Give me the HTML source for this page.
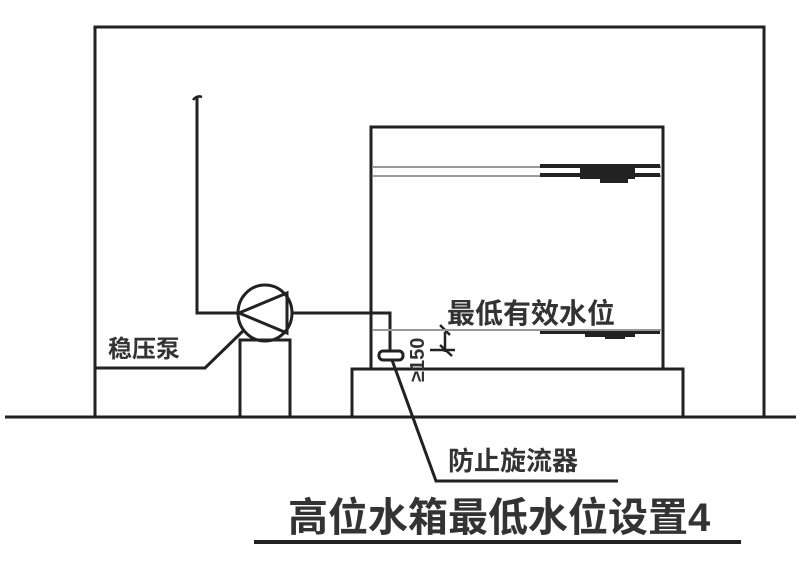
<!DOCTYPE html>
<html><head><meta charset="utf-8"><style>
body{margin:0;background:#fff;width:800px;height:575px;overflow:hidden}
svg{display:block}
text{font-family:"Liberation Sans","Noto Sans CJK SC",sans-serif;font-weight:bold;fill:#333}
</style></head><body>
<svg width="800" height="575" viewBox="0 0 800 575">
<g fill="none" stroke="#222" stroke-width="3">
<line x1="5" y1="417" x2="796" y2="417"/>
<polyline points="95,417 95,27 764,27 764,417"/>
<rect x="371" y="127" width="292" height="242"/>
<rect x="352" y="369" width="331" height="48"/>
<rect x="240" y="340" width="50" height="77"/>
<ellipse cx="265" cy="313" rx="27" ry="28"/>
<polyline points="239,313 287,293 287,333 239,313"/>
<polyline points="197,98 197,313 238,313"/>
<polyline points="292,313 390,313 390,352"/>
<rect x="379" y="351" width="24" height="9" rx="4"/>
<polyline points="95,368 205,368 243,331"/>
<polyline points="392,360 436,481 618,481"/>
<line x1="254" y1="542" x2="741" y2="542" stroke-width="4"/>
<path d="M193,100 q4,-5 9,-3" stroke-width="2.5"/>
<line x1="445" y1="332" x2="445" y2="352" stroke-width="2.5"/>
<line x1="430" y1="350" x2="455" y2="350" stroke-width="2.5"/>
<line x1="440" y1="325" x2="450" y2="335" stroke-width="2.5"/>
<line x1="440" y1="345" x2="452" y2="356" stroke-width="2.5"/>
</g>
<g stroke="#999" stroke-width="2">
<line x1="373" y1="167" x2="661" y2="167"/>
<line x1="373" y1="176" x2="661" y2="176"/>
<line x1="373" y1="330" x2="661" y2="330"/>
</g>
<g fill="#222">
<rect x="540" y="164" width="120" height="4"/>
<rect x="540" y="173" width="120" height="4"/>
<rect x="580" y="164" width="55" height="15"/>
<rect x="600" y="178" width="28" height="5"/>
<rect x="540" y="331" width="120" height="3"/>
<rect x="585" y="331" width="50" height="6"/>
<rect x="605" y="336" width="20" height="3"/>
</g>
<text x="108" y="357" font-size="24">稳压泵</text>
<text x="447" y="323" font-size="28">最低有效水位</text>
<text x="448" y="470" font-size="26">防止旋流器</text>
<text x="288" y="531" font-size="40">高位水箱最低水位设置4</text>
<text transform="translate(424,382) rotate(-90)" font-size="20">≥150</text>
</svg>
</body></html>
